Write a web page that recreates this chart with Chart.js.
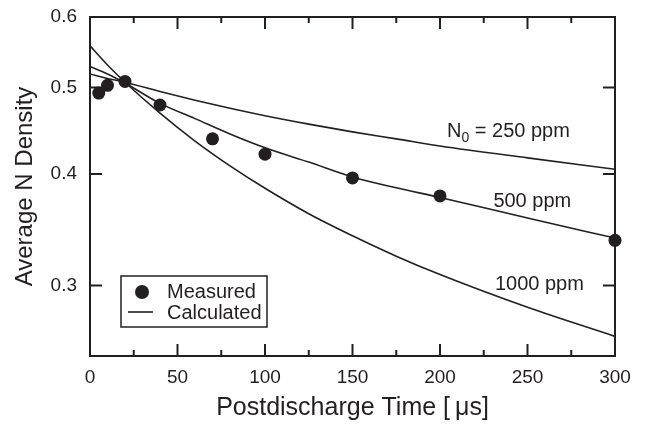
<!DOCTYPE html>
<html>
<head>
<meta charset="utf-8">
<script src="https://cdn.jsdelivr.net/npm/chart.js@4.4.0/dist/chart.umd.min.js"></script>
<style>
  html, body { margin: 0; padding: 0; background: #fff; }
</style>
</head>
<body>
<canvas id="chart" width="647" height="426"></canvas>
<script>
// measured points
const measuredTime = [5, 10, 20, 40, 70, 100, 150, 200, 300]
const measuredDensity = [0.493, 0.503, 0.508, 0.478, 0.438, 0.421, 0.396, 0.378, 0.337]

// calculated curves
const calcTime = [0, 10, 20, 40, 60, 80, 100, 125, 150, 175, 200, 250, 300]
const calc250 = [0.518, 0.512, 0.507, 0.495, 0.484, 0.474, 0.465, 0.455, 0.446, 0.438, 0.430, 0.417, 0.405]
const calc500 = [0.528, 0.518, 0.506, 0.480, 0.4615, 0.4435, 0.428, 0.4125, 0.397, 0.386, 0.3765, 0.357, 0.339]
const calc1000 = [0.557, 0.530, 0.507, 0.468, 0.4355, 0.4085, 0.3855, 0.361, 0.341, 0.3235, 0.3085, 0.2835, 0.263]

const xTicks = [0, 50, 100, 150, 200, 250, 300]
const xMinorTicks = [25, 75, 125, 175, 225, 275]
const yTicks = [0.3, 0.4, 0.5, 0.6]

const ink = '#231f20'
const family = '"Liberation Sans", Arial, Helvetica, sans-serif'

const toPoints = (xs, ys) => xs.map((x, i) => ({ x: x, y: ys[i] }))

function curve(label, values) {
    return {
        label: label,
        type: 'line',
        data: toPoints(calcTime, values),
        borderColor: ink,
        borderWidth: 1.6,
        pointRadius: 0,
        fill: false,
        cubicInterpolationMode: 'monotone',
    }
}

// box, inward ticks on all four sides
const frame = {
    id: 'frame',
    beforeDatasetsDraw(chart) {
        const { ctx, chartArea: a, scales: { x, y } } = chart
        ctx.save()
        ctx.strokeStyle = ink
        ctx.lineWidth = 2
        ctx.strokeRect(a.left, a.top, a.right - a.left, a.bottom - a.top)
        ctx.beginPath()
        for (const v of xTicks) {
            const px = x.getPixelForValue(v)
            ctx.moveTo(px, a.bottom); ctx.lineTo(px, a.bottom - 12)
            ctx.moveTo(px, a.top); ctx.lineTo(px, a.top + 12)
        }
        for (const v of xMinorTicks) {
            const px = x.getPixelForValue(v)
            ctx.moveTo(px, a.bottom); ctx.lineTo(px, a.bottom - 6)
            ctx.moveTo(px, a.top); ctx.lineTo(px, a.top + 6)
        }
        for (const v of yTicks) {
            const py = y.getPixelForValue(v)
            ctx.moveTo(a.left, py); ctx.lineTo(a.left + 12, py)
            ctx.moveTo(a.right, py); ctx.lineTo(a.right - 12, py)
        }
        ctx.stroke()
        ctx.restore()
    }
}

// curve labels and the boxed key
const notes = {
    id: 'notes',
    afterDraw(chart) {
        const { ctx, scales: { x, y } } = chart
        ctx.save()
        ctx.fillStyle = ink
        ctx.textBaseline = 'alphabetic'
        ctx.textAlign = 'left'
        ctx.font = `20px ${family}`

        let px = x.getPixelForValue(204)
        let py = y.getPixelForValue(0.4398)
        ctx.fillText('N', px, py)
        px += ctx.measureText('N').width
        ctx.font = `14px ${family}`
        ctx.fillText('0', px, py + 5)
        px += ctx.measureText('0').width
        ctx.font = `20px ${family}`
        ctx.fillText(' = 250 ppm', px, py)

        ctx.fillText('500 ppm', x.getPixelForValue(230.5), y.getPixelForValue(0.3676))
        ctx.fillText('1000 ppm', x.getPixelForValue(231.4), y.getPixelForValue(0.2964))

        // key
        ctx.strokeStyle = ink
        ctx.lineWidth = 1.5
        ctx.strokeRect(121, 276, 146, 51)
        ctx.beginPath()
        ctx.arc(142, 292, 7, 0, Math.PI * 2)
        ctx.fill()
        ctx.beginPath()
        ctx.lineWidth = 1.6
        ctx.moveTo(128, 312)
        ctx.lineTo(153, 312)
        ctx.stroke()
        ctx.fillText('Measured', 167, 298)
        ctx.fillText('Calculated', 167, 319)
        ctx.restore()
    }
}

new Chart(document.getElementById('chart'), {
    type: 'scatter',
    data: {
        datasets: [
            {
                label: 'Measured',
                data: toPoints(measuredTime, measuredDensity),
                pointRadius: 6.5,
                backgroundColor: ink,
                borderWidth: 0,
                clip: false,
            },
            curve('250 ppm', calc250),
            curve('500 ppm', calc500),
            curve('1000 ppm', calc1000),
        ],
    },
    options: {
        responsive: false,
        animation: false,
        devicePixelRatio: 1,
        layout: { padding: { left: 0, right: 32, top: 17, bottom: 0 } },
        plugins: {
            legend: { display: false },
            tooltip: { enabled: false },
        },
        scales: {
            x: {
                type: 'linear',
                min: 0,
                max: 300,
                bounds: 'data',
                afterBuildTicks: s => { s.ticks = xTicks.map(v => ({ value: v })) },
                afterFit: s => { s.height = 70; s.paddingLeft = 0; s.paddingRight = 0 },
                grid: { display: false, drawTicks: false },
                border: { display: false },
                ticks: {
                    autoSkip: false,
                    maxRotation: 0,
                    color: ink,
                    font: { family: family, size: 19 },
                    padding: 10,
                },
                title: {
                    display: true,
                    text: 'Postdischarge Time [\u2009μs]',
                    color: ink,
                    font: { family: family, size: 25 },
                    padding: { top: 0, bottom: 3 },
                },
            },
            y: {
                type: 'logarithmic',
                min: 0.25,
                max: 0.6,
                bounds: 'data',
                afterBuildTicks: s => { s.ticks = yTicks.map(v => ({ value: v })) },
                afterFit: s => { s.width = 90; s.paddingTop = 0; s.paddingBottom = 0 },
                grid: { display: false, drawTicks: false },
                border: { display: false },
                ticks: {
                    autoSkip: false,
                    color: ink,
                    font: { family: family, size: 19 },
                    padding: 13,
                    callback: v => Number(v).toFixed(1),
                },
                title: {
                    display: true,
                    text: 'Average N Density',
                    color: ink,
                    font: { family: family, size: 24 },
                    padding: { top: 11, bottom: 0 },
                },
            },
        },
    },
    plugins: [frame, notes],
})
</script>
</body>
</html>
